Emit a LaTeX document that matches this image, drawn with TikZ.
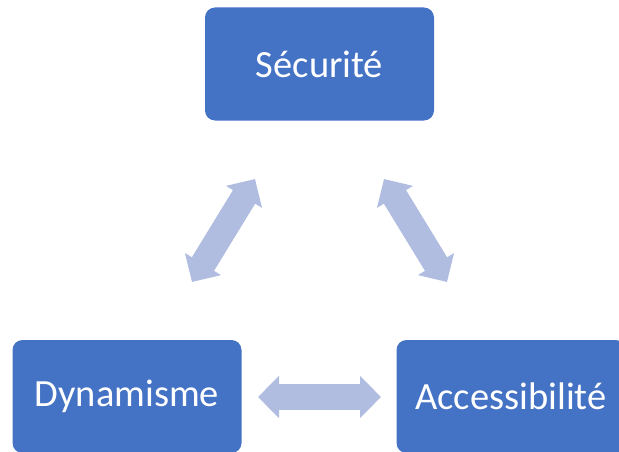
\documentclass[tikz,border=0pt]{standalone}
\usepackage{fontspec}
\setmainfont{Carlito}
\usepackage{tikz}
\usetikzlibrary{arrows.meta, positioning}
\definecolor{boxblue}{RGB}{68,114,196}
\definecolor{lienbleu}{RGB}{176,189,224}

\begin{document}
\begin{tikzpicture}[x=1pt,y=-1pt,
  pole/.style={fill=boxblue, rounded corners=10pt, minimum width=229pt, minimum height=113pt,
    text=white, font=\fontsize{38.5}{46}\selectfont},
  lien/.style={lienbleu, line width=26pt,
    {Triangle[length=21pt,width=41pt]}-{Triangle[length=21pt,width=41pt]}}]
\useasboundingbox (0,0) rectangle (619,452);
\node[pole] (secu) at (319.5,64) {Sécurité};
\node[pole] (dyna) at (127,396.5) {Dynamisme};
\node[pole] (acces) at (511,396.5) {Accessibilité};
% bouts des flèches
\coordinate (secuG) at (255,179);
\coordinate (dynaH) at (192,282);
\coordinate (secuD) at (384,179);
\coordinate (accesH) at (447,282);
\coordinate (dynaD) at (258,397);
\coordinate (accesG) at (381,397);
\draw[lien] (secuG) -- (dynaH);
\draw[lien] (secuD) -- (accesH);
\draw[lien] (dynaD) -- (accesG);
\end{tikzpicture}
\end{document}
